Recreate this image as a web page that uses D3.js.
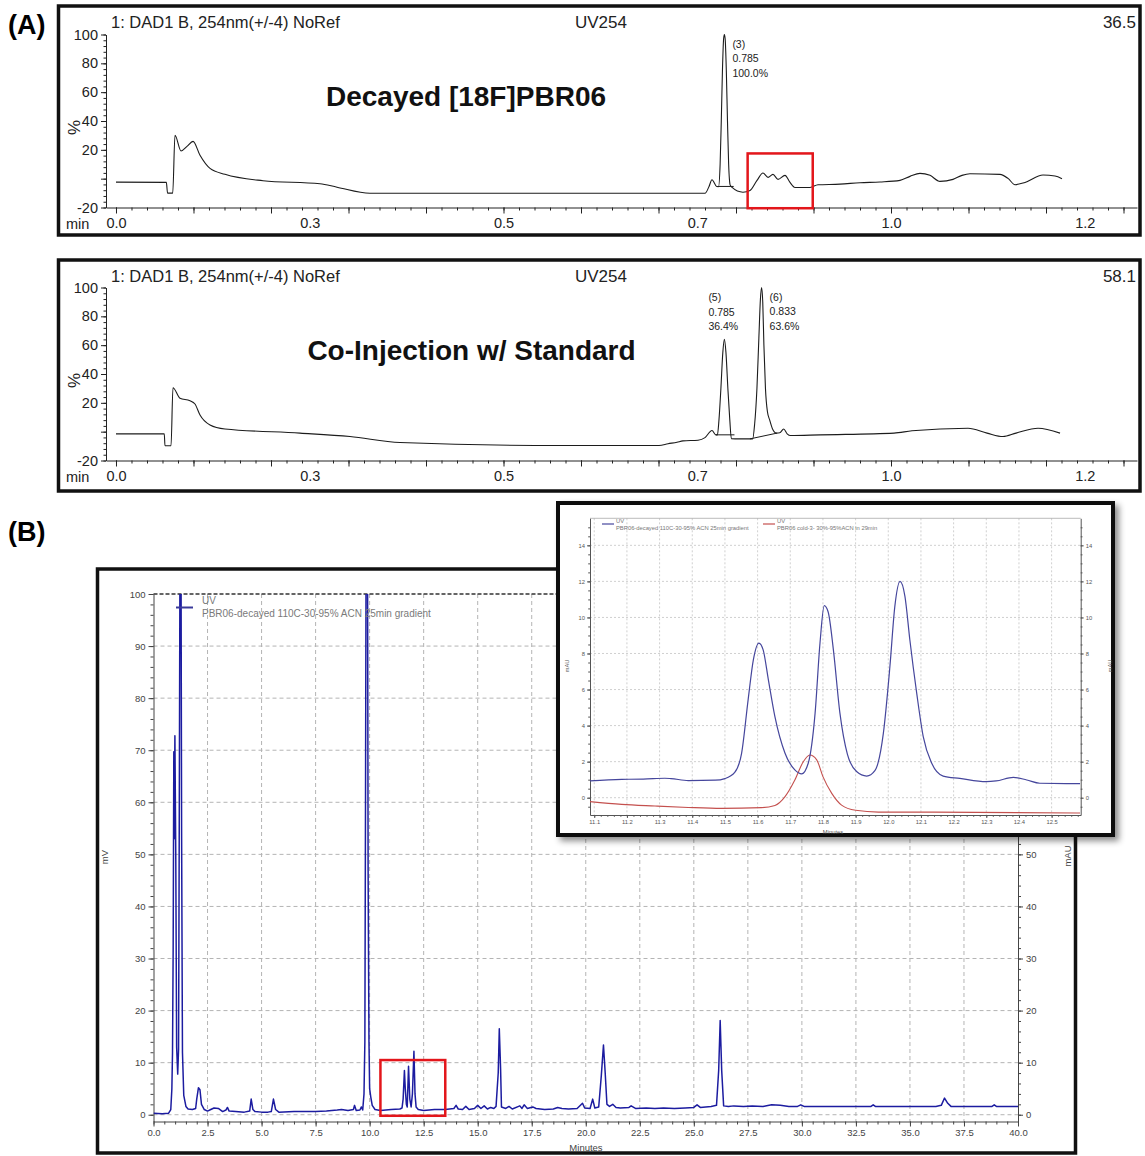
<!DOCTYPE html>
<html><head><meta charset="utf-8">
<script src="https://cdn.jsdelivr.net/npm/d3@7"></script>
<style>
html,body{margin:0;padding:0;background:#fff;}
svg{display:block;font-family:"Liberation Sans",Arial,Helvetica,sans-serif;}
</style></head><body>
<svg id="fig" width="1145" height="1156"></svg>
<script>
// ---------- Panel A: radio-HPLC traces (UV254, % of full scale vs min) ----------
const radioTickValues = [0, 0.25, 0.5, 0.75, 1.0, 1.25];
const radioTickLabels = ["0.0", "0.3", "0.5", "0.7", "1.0", "1.2"];
const radioYTicks = [100, 80, 60, 40, 20, 0, -20];
const radioTitles = ["Decayed [18F]PBR06", "Co-Injection w/ Standard"];
const radioHeader = ["1: DAD1 B, 254nm(+/-4) NoRef", "UV254"];
const radioFullScale = ["36.5", "58.1"];

const decayedTrace = [
  [0.000,-2.4],[0.065,-2.6],[0.0665,-10.0],[0.0732,-10.0],[0.0761,30.1],[0.0839,19.2],[0.0916,22.4],
  [0.0994,25.9],[0.1084,16.2],[0.1213,7.1],[0.1406,3.0],[0.1897,-1.4],[0.2632,-3.5],[0.2852,-5.9],
  [0.3277,-10.1],[0.760,-10.1],[0.7652,-5.4],[0.769,-0.7],[0.775,-5.4],
  [0.7775,-5.5],[0.7795,10],[0.781,40],[0.7825,75],[0.784,97],[0.785,100],[0.786,97],[0.7875,75],
  [0.789,40],[0.7905,10],[0.7925,-4.5],
  [0.7945,-5.9],[0.809,-9.4],[0.8181,-8.2],[0.8271,-1.2],[0.8348,3.9],[0.8413,0.9],[0.8477,3.0],
  [0.8542,-0.5],[0.8632,2.3],[0.8697,-2.6],[0.8761,-6.1],[0.8955,-6.1],[0.9058,-4.2],[0.9342,-3.8],
  [0.96,-2.8],[0.9858,-2.3],[1.0116,-1.2],[1.0245,1.6],[1.0374,3.7],[1.0503,2.3],[1.0632,-1.9],
  [1.08,-0.5],[1.0916,2.3],[1.1019,3.4],[1.1406,3.0],[1.151,0.2],[1.16,-4.2],[1.1729,-2.6],
  [1.1961,2.5],[1.2116,1.9],[1.2206,0.0]
];
const coinjTrace = [
  [0.000,-1.5],[0.0623,-1.5],[0.0632,-9.8],[0.071,-9.8],[0.0735,30.5],[0.0826,23.2],[0.0955,21.5],
  [0.1019,19.2],[0.1084,11.6],[0.1213,4.7],[0.1406,1.9],[0.2374,-1.0],[0.3019,-3.4],[0.3665,-7.5],
  [0.5742,-9.6],[0.7006,-9.6],[0.7123,-8.4],[0.7239,-7.3],[0.7316,-6.4],[0.751,-5.9],[0.76,-4.1],
  [0.769,0.8],[0.774,-2.2],
  [0.776,-2.2],[0.778,8],[0.7805,30],[0.783,55],[0.785,64],[0.787,55],[0.7895,30],[0.792,8],[0.794,-4.8],
  [0.804,-5.0],[0.818,-5.0],
  [0.8215,-5],[0.824,5],[0.827,30],[0.8295,65],[0.8315,92],[0.833,100],[0.8345,90],[0.836,60],
  [0.838,30],[0.8405,14],[0.8435,8],[0.847,2],[0.852,-1],[0.8565,-0.8],[0.8615,1.9],[0.866,-1.5],
  [0.8705,-2.7],[0.9084,-2.2],[1.0039,-1.0],[1.0271,0.6],[1.0994,2.4],[1.1239,-1.0],[1.1445,-3.4],
  [1.1613,-1.0],[1.1897,2.4],[1.2181,-1.0]
];
// integration baselines drawn under the labelled peaks
const decayedBaselines = [[[0.777,-5.4],[0.797,-5.4]]];
const coinjBaselines = [[[0.774,-2.2],[0.798,-2.2]], [[0.818,-5.0],[0.853,-1.0]]];
// labelled peaks: number, retention time, peak height (%), area (%)
const decayedPeaks = [{ n: 3, rt: 0.785, h: 100, area: 100.0 }];
const coinjPeaks = [{ n: 5, rt: 0.785, h: 64, area: 36.4 }, { n: 6, rt: 0.833, h: 100, area: 63.6 }];
// region of interest (min, %)
const decayedRoi = [0.815, 0.899, -20.5, 17.5];

// ---------- Panel B: UV chromatogram (mV vs Minutes) ----------
const uvXTicks = d3.range(0, 40.01, 2.5);
const uvYTicks = d3.range(0, 101, 10);
const uvTrace = [
  [0.0,0.3],[0.4,0.2],[0.7,0.3],[0.8,1.0],[0.85,5],[0.88,12],[0.91,32],[0.94,69.7],[0.96,53],
  [0.99,72.8],[1.03,50],[1.07,13],[1.12,7.8],[1.16,12.6],[1.19,53.4],[1.23,115],[1.27,115],[1.3,54.5],
  [1.34,12],[1.4,3.7],[1.5,1.6],[1.6,1.1],[1.8,1.0],[1.95,1.2],[2.0,3.0],[2.08,5.2],[2.15,4.8],
  [2.22,2.0],[2.35,1.0],[2.5,0.7],[2.65,1.0],[2.8,1.3],[3.0,1.2],[3.2,0.6],[3.35,0.9],[3.42,1.4],
  [3.5,0.7],[3.8,0.6],[4.2,0.5],[4.45,0.7],[4.52,3.0],[4.6,1.0],[4.7,0.6],[5.0,0.5],[5.3,0.5],
  [5.45,0.6],[5.55,3.0],[5.65,1.0],[5.8,0.5],[6.5,0.6],[7.5,0.6],[8.0,0.7],[8.5,0.9],[8.7,1.0],
  [9.0,0.8],[9.25,1.0],[9.3,1.8],[9.38,0.8],[9.55,0.9],[9.62,1.5],[9.68,0.9],[9.74,4],[9.78,14],
  [9.81,60],[9.84,115],[9.9,115],[9.93,47],[9.97,14],[10.0,5],[10.05,3.5],[10.12,1.8],[10.25,1.0],
  [10.5,0.8],[11.0,1.0],[11.4,1.1],[11.5,1.3],[11.55,3.0],[11.61,8.5],[11.65,5],[11.7,2.0],
  [11.74,1.5],[11.8,9.3],[11.86,3],[11.92,1.5],[11.98,4],[12.05,12.2],[12.1,4],[12.15,1.5],
  [12.25,1.0],[12.5,0.8],[13.0,1.0],[13.5,1.0],[13.9,1.2],[14.0,1.8],[14.1,1.1],[14.3,1.0],
  [14.45,1.6],[14.6,1.0],[14.85,1.2],[15.0,1.8],[15.15,1.2],[15.3,1.7],[15.45,1.1],[15.6,1.4],
  [15.75,1.2],[15.85,1.6],[15.95,8],[16.0,16.5],[16.06,8.8],[16.1,1.5],[16.3,1.2],[16.45,1.6],
  [16.6,1.1],[16.95,1.7],[17.05,1.2],[17.15,1.9],[17.3,1.2],[17.55,1.5],[17.7,1.2],[18.1,1.0],
  [18.5,1.1],[18.7,1.4],[18.9,1.2],[19.2,1.1],[19.6,1.2],[19.85,2.2],[19.95,1.3],[20.2,1.2],
  [20.32,3.0],[20.42,1.3],[20.6,1.5],[20.72,7.5],[20.82,13.4],[20.9,8],[20.98,2.0],[21.1,1.6],
  [21.25,2.0],[21.4,1.4],[21.6,1.3],[22.0,1.4],[22.1,1.7],[22.3,1.2],[22.8,1.3],[23.2,1.2],
  [23.6,1.3],[24.1,1.2],[24.6,1.3],[25.0,1.4],[25.15,1.9],[25.3,1.4],[25.8,1.6],[26.05,1.8],
  [26.15,8.5],[26.22,18.1],[26.29,8.5],[26.38,1.7],[26.6,1.6],[26.85,1.7],[27.3,1.6],[27.7,1.7],
  [28.2,1.6],[28.6,1.9],[29.0,1.8],[29.4,1.6],[29.8,1.6],[29.95,1.9],[30.1,1.6],[31.0,1.6],
  [33.2,1.6],[33.3,1.9],[33.4,1.6],[36.2,1.6],[36.45,1.8],[36.6,3.2],[36.75,2.2],[36.9,1.6],
  [38.8,1.6],[38.9,1.9],[39.0,1.6],[40.0,1.6]
];
const uvRoi = [10.5, 13.5, -0.2, 10.5];
const uvLegend = ["UV", "PBR06-decayed 110C-30-95% ACN 25min gradient"];

// ---------- Panel B inset: overlay of decayed sample and cold standard (mAU) ----------
const insetXTicks = d3.range(111, 126).map(d => d / 10);
const insetYTicks = d3.range(0, 15, 2);
const insetDecayed = [
  [11.087,0.93],[11.184,1.02],[11.25,1.03],[11.316,1.08],[11.335,1.06],[11.388,0.95],[11.47,0.97],
  [11.50,1.06],[11.53,1.4],[11.551,2.46],[11.571,5.43],[11.587,7.65],[11.604,8.58],[11.617,8.2],
  [11.633,6.54],[11.653,4.5],[11.684,2.47],[11.714,1.54],[11.735,1.32],[11.755,1.91],[11.776,4.69],
  [11.791,8.58],[11.804,10.65],[11.816,10.3],[11.832,8.2],[11.852,4.69],[11.875,2.4],[11.903,1.45],
  [11.934,1.2],[11.959,1.5],[11.985,3.58],[12.005,7.28],[12.02,10.6],[12.036,12.0],[12.051,11.17],
  [12.066,8.76],[12.087,5.8],[12.107,3.39],[12.133,1.91],[12.168,1.2],[12.219,1.07],[12.3,0.89],
  [12.33,0.93],[12.383,1.13],[12.424,0.98],[12.464,0.8],[12.587,0.78]
];
const insetCold = [
  [11.087,-0.22],[11.184,-0.37],[11.286,-0.46],[11.388,-0.54],[11.49,-0.59],[11.612,-0.55],
  [11.653,-0.43],[11.684,0.06],[11.714,0.98],[11.74,2.0],[11.76,2.37],[11.781,2.1],[11.8,1.17],
  [11.827,0.24],[11.857,-0.41],[11.9,-0.7],[11.97,-0.8],[12.14,-0.8],[12.587,-0.85]
];
const insetLegend = [
  ["UV", "PBR06-decayed 110C-30-95% ACN 25min gradient"],
  ["UV", "PBR06 cold-3- 30%-95%ACN in 29min"]
];

const svg = d3.select("#fig");
const FONT = '"Liberation Sans",Arial,Helvetica,sans-serif';

const defs = svg.append("defs");
const shadow = defs.append("filter").attr("id", "insetShadow")
  .attr("x", "-5%").attr("y", "-5%").attr("width", "112%").attr("height", "115%");
shadow.append("feDropShadow").attr("dx", 4).attr("dy", 4).attr("stdDeviation", 3)
  .attr("flood-color", "#000").attr("flood-opacity", 0.45);

// panel letters
svg.append("text").attr("x", 8).attr("y", 34).attr("font-size", 27).attr("font-weight", "bold").text("(A)");
svg.append("text").attr("x", 8).attr("y", 541).attr("font-size", 27).attr("font-weight", "bold").text("(B)");

function styleAxis(g, color, size) {
  g.attr("color", color);
  g.selectAll("text").attr("font-family", FONT).attr("font-size", size).attr("fill", color);
}

function drawRadioPanel(o) {
  const g = svg.append("g");
  g.append("rect").attr("x", 58.5).attr("y", o.frameY).attr("width", 1081.5).attr("height", o.frameH)
    .attr("fill", "none").attr("stroke", "#111").attr("stroke-width", 3.5);

  const x = d3.scaleLinear().domain([-0.0129, 1.3174]).range([106, 1137]);
  const y = d3.scaleLinear().domain([-20, 100]).range([o.yTop + 173, o.yTop]);
  const axisY = y(-20);

  // x axis: fine ruler every 0.02, taller marks every 0.1, labels every 0.25
  g.append("g").attr("transform", `translate(0,${axisY})`)
    .call(d3.axisBottom(x).tickValues(d3.range(0, 1.311, 0.02)).tickSize(3).tickSizeOuter(0).tickFormat(""))
    .call(a => styleAxis(a, "#222", 14.5));
  g.append("g").attr("transform", `translate(0,${axisY})`)
    .call(d3.axisBottom(x).tickValues(d3.range(0, 1.31, 0.1)).tickSize(6).tickSizeOuter(0).tickFormat(""))
    .call(a => a.select(".domain").remove()).call(a => styleAxis(a, "#222", 14.5));
  g.append("g").attr("transform", `translate(0,${axisY})`)
    .call(d3.axisBottom(x).tickValues(radioTickValues).tickSize(0).tickPadding(10)
      .tickFormat((d, i) => radioTickLabels[i]))
    .call(a => a.select(".domain").remove()).call(a => styleAxis(a, "#222", 14.5));
  g.append("text").attr("x", 66).attr("y", axisY + 21).attr("font-size", 14.5).attr("fill", "#222").text("min");

  // y axis
  const yAxisG = g.append("g").attr("transform", "translate(106,0)");
  yAxisG.append("g").call(d3.axisLeft(y).tickValues(d3.range(-20, 100.1, 4)).tickSize(2.5).tickSizeOuter(0).tickFormat(""))
    .call(a => styleAxis(a, "#222", 14.5));
  yAxisG.append("g").call(d3.axisLeft(y).tickValues(radioYTicks).tickSize(5).tickPadding(3).tickSizeOuter(0)
      .tickFormat(d => d === 0 ? "" : d))
    .call(a => a.select(".domain").remove()).call(a => styleAxis(a, "#222", 14.5));
  g.append("text").attr("transform", `translate(80,${o.yTop + 93}) rotate(-90)`)
    .attr("text-anchor", "middle").attr("font-size", 17).attr("fill", "#222").text("%");

  // header line
  const hy = o.frameY + 22;
  g.append("text").attr("x", 111).attr("y", hy).attr("font-size", 16.5).attr("fill", "#222").text(radioHeader[0]);
  g.append("text").attr("x", 601).attr("y", hy).attr("text-anchor", "middle").attr("font-size", 17).attr("fill", "#222").text(radioHeader[1]);
  g.append("text").attr("x", 1136).attr("y", hy).attr("text-anchor", "end").attr("font-size", 17).attr("fill", "#222").text(o.fullScale);

  // title
  g.append("text").attr("x", o.titleX).attr("y", o.titleY).attr("text-anchor", "middle")
    .attr("font-size", 28).attr("font-weight", "bold").attr("fill", "#111").text(o.title);

  // trace
  const line = d3.line().x(d => x(d[0])).y(d => y(d[1])).curve(d3.curveMonotoneX);
  g.append("path").datum(o.trace).attr("d", line).attr("fill", "none")
    .attr("stroke", "#1c1c1c").attr("stroke-width", 1.1);
  const straight = d3.line().x(d => x(d[0])).y(d => y(d[1]));
  o.baselines.forEach(b => g.append("path").datum(b).attr("d", straight).attr("fill", "none")
    .attr("stroke", "#1c1c1c").attr("stroke-width", 1));

  // peak annotations
  o.peaks.forEach(p => {
    const full = p.h >= 99;
    const lx = full ? x(p.rt) + 8 : x(p.rt) - 16;
    const ly = full ? y(p.h) + 13 : y(p.h) - 38;
    const lines = [`(${p.n})`, p.rt.toFixed(3), p.area.toFixed(1) + "%"];
    lines.forEach((t, i) => g.append("text").attr("x", lx).attr("y", ly + i * 14.5)
      .attr("font-size", 10.5).attr("fill", "#222").text(t));
  });

  if (o.roi) {
    g.append("rect").attr("x", x(o.roi[0])).attr("y", y(o.roi[3]))
      .attr("width", x(o.roi[1]) - x(o.roi[0])).attr("height", y(o.roi[2]) - y(o.roi[3]))
      .attr("fill", "none").attr("stroke", "#e3161b").attr("stroke-width", 2.5);
  }
}

drawRadioPanel({ frameY: 6, frameH: 229, yTop: 34.5, title: radioTitles[0], titleX: 466, titleY: 106,
  fullScale: radioFullScale[0], trace: decayedTrace, baselines: decayedBaselines, peaks: decayedPeaks, roi: decayedRoi });
drawRadioPanel({ frameY: 260, frameH: 231, yTop: 287.5, title: radioTitles[1], titleX: 471.5, titleY: 360,
  fullScale: radioFullScale[1], trace: coinjTrace, baselines: coinjBaselines, peaks: coinjPeaks, roi: null });

// ---------- Panel B main chromatogram ----------
(function () {
  const g = svg.append("g");
  g.append("rect").attr("x", 97.5).attr("y", 569).attr("width", 978).attr("height", 584)
    .attr("fill", "#fff").attr("stroke", "#111").attr("stroke-width", 3.5);

  const x = d3.scaleLinear().domain([0, 40]).range([153.5, 1018]);
  const y = d3.scaleLinear().domain([-1.3, 100]).range([1121.5, 594]);

  // dashed grid
  const grid = g.append("g").attr("stroke", "#b4b4b4").attr("stroke-width", 1).attr("stroke-dasharray", "4,3");
  uvXTicks.filter(t => t > 0 && t < 40).forEach(t => grid.append("line")
    .attr("x1", x(t)).attr("x2", x(t)).attr("y1", y(100)).attr("y2", y(-1.3)));
  uvYTicks.filter(v => v < 100).forEach(v => grid.append("line")
    .attr("x1", x(0)).attr("x2", x(40)).attr("y1", y(v)).attr("y2", y(v)));
  g.append("line").attr("x1", x(0)).attr("x2", x(40)).attr("y1", y(100)).attr("y2", y(100))
    .attr("stroke", "#333").attr("stroke-width", 1.4).attr("stroke-dasharray", "4,2");

  // axes
  const col = "#444", fs = 9.5;
  g.append("g").attr("transform", `translate(${x(0)},0)`)
    .call(d3.axisLeft(y).tickValues(d3.range(0, 100.1, 2)).tickSize(3).tickSizeOuter(0).tickFormat(""))
    .call(a => styleAxis(a, col, fs));
  g.append("g").attr("transform", `translate(${x(0)},0)`)
    .call(d3.axisLeft(y).tickValues(uvYTicks).tickSize(5).tickPadding(3).tickSizeOuter(0))
    .call(a => a.select(".domain").remove()).call(a => styleAxis(a, col, fs));
  g.append("g").attr("transform", `translate(${x(40)},0)`)
    .call(d3.axisRight(y).tickValues(d3.range(0, 100.1, 2)).tickSize(3).tickSizeOuter(0).tickFormat(""))
    .call(a => styleAxis(a, col, fs));
  g.append("g").attr("transform", `translate(${x(40)},0)`)
    .call(d3.axisRight(y).tickValues(uvYTicks).tickSize(5).tickPadding(3).tickSizeOuter(0))
    .call(a => a.select(".domain").remove()).call(a => styleAxis(a, col, fs));
  g.append("g").attr("transform", `translate(0,${y(-1.3)})`)
    .call(d3.axisBottom(x).tickValues(d3.range(0, 40.01, 0.5)).tickSize(3).tickSizeOuter(0).tickFormat(""))
    .call(a => styleAxis(a, col, fs));
  g.append("g").attr("transform", `translate(0,${y(-1.3)})`)
    .call(d3.axisBottom(x).tickValues(uvXTicks).tickSize(5).tickPadding(3).tickSizeOuter(0).tickFormat(d3.format(".1f")))
    .call(a => a.select(".domain").remove()).call(a => styleAxis(a, col, fs));

  g.append("text").attr("x", 586).attr("y", 1151).attr("text-anchor", "middle")
    .attr("font-size", fs).attr("fill", col).text("Minutes");
  g.append("text").attr("transform", "translate(108,857) rotate(-90)").attr("text-anchor", "middle")
    .attr("font-size", fs).attr("fill", col).text("mV");
  g.append("text").attr("transform", "translate(1071,856) rotate(-90)").attr("text-anchor", "middle")
    .attr("font-size", fs).attr("fill", col).text("mAU");

  // trace (clipped to plot area)
  defs.append("clipPath").attr("id", "uvClip").append("rect")
    .attr("x", x(0)).attr("y", y(100)).attr("width", x(40) - x(0)).attr("height", y(-1.3) - y(100));
  const line = d3.line().x(d => x(d[0])).y(d => y(d[1]));
  g.append("path").datum(uvTrace).attr("d", line).attr("clip-path", "url(#uvClip)")
    .attr("fill", "none").attr("stroke", "#1c1ca0").attr("stroke-width", 1.5).attr("stroke-linejoin", "round");

  // legend
  g.append("line").attr("x1", 176).attr("x2", 193).attr("y1", 607.5).attr("y2", 607.5)
    .attr("stroke", "#3a3a9a").attr("stroke-width", 2);
  g.append("text").attr("x", 202).attr("y", 604).attr("font-size", 10).attr("fill", "#7a7a7a").text(uvLegend[0]);
  g.append("text").attr("x", 202).attr("y", 617).attr("font-size", 10).attr("fill", "#7a7a7a").text(uvLegend[1]);

  // region of interest
  g.append("rect").attr("x", x(uvRoi[0])).attr("y", y(uvRoi[3]))
    .attr("width", x(uvRoi[1]) - x(uvRoi[0])).attr("height", y(uvRoi[2]) - y(uvRoi[3]))
    .attr("fill", "none").attr("stroke", "#e3161b").attr("stroke-width", 2.5);
})();

// ---------- Panel B inset ----------
(function () {
  const g = svg.append("g");
  g.append("rect").attr("x", 558).attr("y", 503).attr("width", 555).attr("height", 332)
    .attr("fill", "#fff").attr("stroke", "#111").attr("stroke-width", 4).attr("filter", "url(#insetShadow)");

  const x = d3.scaleLinear().domain([11.087, 12.589]).range([590, 1080.7]);
  const y = d3.scaleLinear().domain([-0.96, 15.5]).range([815, 518.3]);

  const grid = g.append("g").attr("stroke", "#c4c4c4").attr("stroke-width", 0.8).attr("stroke-dasharray", "2,2");
  insetXTicks.forEach(t => grid.append("line").attr("x1", x(t)).attr("x2", x(t)).attr("y1", y(15.5)).attr("y2", y(-0.96)));
  insetYTicks.forEach(v => grid.append("line").attr("x1", x(11.087)).attr("x2", x(12.589)).attr("y1", y(v)).attr("y2", y(v)));
  g.append("line").attr("x1", x(11.087)).attr("x2", x(12.589)).attr("y1", y(15.5)).attr("y2", y(15.5))
    .attr("stroke", "#aaa").attr("stroke-width", 0.8);

  const col = "#555", fs = 5.8;
  g.append("g").attr("transform", `translate(${x(11.087)},0)`)
    .call(d3.axisLeft(y).tickValues(d3.range(-0.5, 15.5, 0.5)).tickSize(1.8).tickSizeOuter(0).tickFormat(""))
    .call(a => styleAxis(a, col, fs));
  g.append("g").attr("transform", `translate(${x(11.087)},0)`)
    .call(d3.axisLeft(y).tickValues(insetYTicks).tickSize(3).tickPadding(2).tickSizeOuter(0))
    .call(a => a.select(".domain").remove()).call(a => styleAxis(a, col, fs));
  g.append("g").attr("transform", `translate(${x(12.589)},0)`)
    .call(d3.axisRight(y).tickValues(d3.range(-0.5, 15.5, 0.5)).tickSize(1.8).tickSizeOuter(0).tickFormat(""))
    .call(a => styleAxis(a, col, fs));
  g.append("g").attr("transform", `translate(${x(12.589)},0)`)
    .call(d3.axisRight(y).tickValues(insetYTicks).tickSize(3).tickPadding(2).tickSizeOuter(0))
    .call(a => a.select(".domain").remove()).call(a => styleAxis(a, col, fs));
  g.append("g").attr("transform", `translate(0,${y(-0.96)})`)
    .call(d3.axisBottom(x).tickValues(d3.range(11.1, 12.58, 0.02)).tickSize(1.8).tickSizeOuter(0).tickFormat(""))
    .call(a => styleAxis(a, col, fs));
  g.append("g").attr("transform", `translate(0,${y(-0.96)})`)
    .call(d3.axisBottom(x).tickValues(insetXTicks).tickSize(3).tickPadding(2).tickSizeOuter(0).tickFormat(d3.format(".1f")))
    .call(a => a.select(".domain").remove()).call(a => styleAxis(a, col, fs));

  g.append("text").attr("x", 833).attr("y", 834).attr("text-anchor", "middle").attr("font-size", fs).attr("fill", col).text("Minutes");
  g.append("text").attr("transform", "translate(569,666) rotate(-90)").attr("text-anchor", "middle")
    .attr("font-size", fs).attr("fill", col).text("mAU");
  g.append("text").attr("transform", "translate(1112,666) rotate(-90)").attr("text-anchor", "middle")
    .attr("font-size", fs).attr("fill", col).text("mAU");

  const line = d3.line().x(d => x(d[0])).y(d => y(d[1])).curve(d3.curveMonotoneX);
  g.append("path").datum(insetCold).attr("d", line).attr("fill", "none")
    .attr("stroke", "#c4504e").attr("stroke-width", 1.1);
  g.append("path").datum(insetDecayed).attr("d", line).attr("fill", "none")
    .attr("stroke", "#45469c").attr("stroke-width", 1.2);

  // legend
  const legendColors = ["#45469c", "#c4504e"];
  const legendX = [602, 763];
  insetLegend.forEach((lab, i) => {
    g.append("line").attr("x1", legendX[i]).attr("x2", legendX[i] + 12).attr("y1", 524).attr("y2", 524)
      .attr("stroke", legendColors[i]).attr("stroke-width", 1.2);
    g.append("text").attr("x", legendX[i] + 14).attr("y", 522.5).attr("font-size", fs).attr("fill", "#777").text(lab[0]);
    g.append("text").attr("x", legendX[i] + 14).attr("y", 530.3).attr("font-size", fs).attr("fill", "#777").text(lab[1]);
  });
})();
</script></body></html>
